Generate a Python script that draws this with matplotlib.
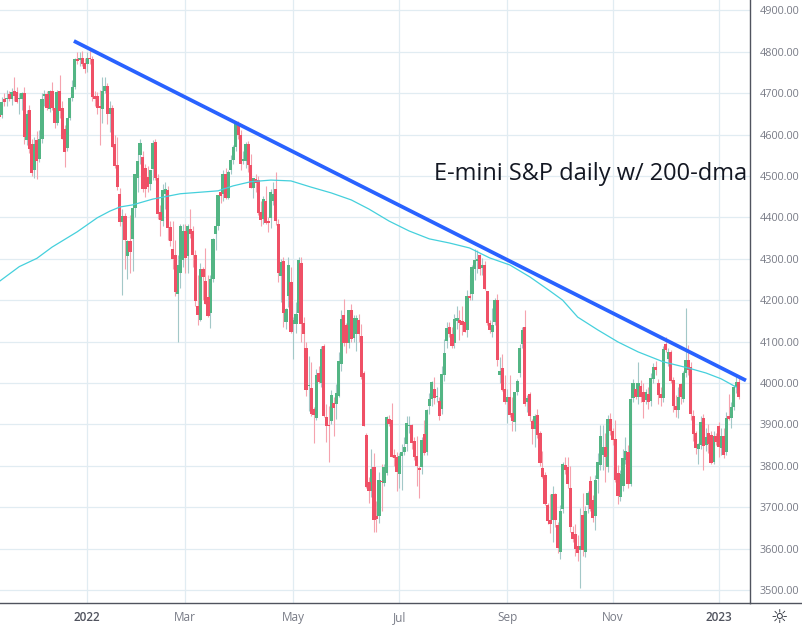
import matplotlib
matplotlib.use('Agg')
import matplotlib.pyplot as plt
from matplotlib.lines import Line2D
import numpy as np

opens = [4648,4646,4685,4685,4697,4687,4705,4703,4685,4687,
	4701,4586,4659,4577,4514,4587,4540,4590,4693,4697,
	4661,4705,4663,4628,4705,4663,4613,4568,4641,4688,
	4715,4782,4779,4784,4774,4771,4786,4783,4693,4693,
	4670,4662,4705,4718,4650,4665,4578,4526,4456,4388,
	4404,4306,4344,4347,4423,4494,4550,4546,4519,4497,
	4481,4516,4583,4495,4412,4391,4457,4465,4377,4324,
	4310,4214,4265,4298,4368,4306,4372,4366,4308,4187,
	4152,4274,4247,4207,4169,4252,4360,4380,4460,4457,
	4504,4447,4514,4538,4570,4625,4600,4535,4536,4576,
	4527,4472,4493,4490,4414,4395,4440,4391,4398,4440,
	4469,4385,4258,4294,4147,4211,4244,4143,4143,4169,
	4289,4145,4085,3992,3988,3937,3915,4024,4000,4090,
	3917,3899,3907,3951,3949,3969,4046,4163,4139,4096,
	4177,4109,4118,4151,4114,4024,3875,3760,3740,3798,
	3679,3679,3764,3758,3782,3913,3911,3827,3822,3780,
	3824,3834,3853,3895,3898,3859,3824,3795,3796,3877,
	3834,3944,3961,3986,3965,3957,3937,4019,4102,4135,
	4119,4096,4150,4151,4149,4148,4127,4211,4215,4276,
	4295,4308,4278,4286,4221,4144,4124,4147,4201,4020,
	4035,3986,3955,3967,3928,3905,3977,4024,4094,4136,
	3953,3973,3907,3888,3923,3878,3794,3778,3706,3670,
	3669,3732,3658,3592,3696,3802,3797,3746,3640,3634,
	3607,3597,3682,3591,3705,3762,3716,3678,3768,3802,
	3826,3845,3798,3912,3884,3864,3782,3724,3750,3813,
	3833,3757,3963,3986,3965,3993,3977,3958,3973,3957,
	4009,4038,3999,3973,3963,4094,4058,4075,4007,3945,
	3935,3997,3961,4025,4055,4039,3920,3878,3841,3851,
	3915,3850,3878,3875,3809,3871,3896,3843,3873,3832,
	3920,3915,3941,3990,4003]
highs = [4652,4690,4700,4707,4705,4712,4740,4715,4700,4702,
	4715,4660,4672,4590,4595,4608,4612,4700,4708,4705,
	4708,4726,4680,4708,4743,4680,4622,4640,4690,4731,
	4785,4800,4800,4802,4785,4800,4808,4790,4705,4702,
	4707,4739,4740,4725,4680,4672,4600,4595,4470,4420,
	4410,4345,4405,4425,4505,4555,4590,4560,4530,4525,
	4514,4587,4590,4505,4430,4480,4485,4475,4390,4390,
	4345,4310,4385,4385,4385,4385,4420,4380,4320,4260,
	4290,4280,4325,4260,4260,4350,4400,4455,4470,4515,
	4520,4515,4550,4575,4631,4632,4610,4560,4582,4585,
	4552,4496,4505,4500,4440,4452,4475,4400,4468,4486,
	4510,4395,4300,4304,4180,4304,4280,4160,4195,4304,
	4304,4160,4098,4064,4050,3941,4034,4042,4090,4095,
	3950,3945,3982,3965,3998,4074,4175,4202,4145,4175,
	4190,4165,4163,4166,4142,4030,3878,3772,3840,3830,
	3714,3784,3804,3804,3920,3923,3951,3840,3832,3830,
	3852,3870,3921,3921,3900,3870,3873,3800,3870,3910,
	3936,3975,4005,4015,3990,3965,4042,4105,4148,4148,
	4135,4167,4185,4175,4187,4155,4225,4260,4285,4324,
	4322,4312,4302,4295,4223,4152,4180,4205,4215,4062,
	4070,4018,3985,4018,3965,3977,4010,4095,4135,4175,
	3970,3979,3912,3925,3936,3885,3835,3785,3710,3732,
	3752,3735,3665,3705,3810,3822,3822,3800,3655,3660,
	3633,3697,3734,3702,3740,3775,3730,3778,3830,3898,
	3898,3880,3922,3927,3890,3910,3802,3790,3840,3870,
	3850,3971,4010,3999,4050,4007,3999,3985,3990,4025,
	4047,4052,4010,3990,4090,4112,4085,4080,4015,3970,
	3990,4000,4030,4180,4092,4050,3935,3885,3855,3920,
	3925,3890,3900,3885,3885,3880,3906,3890,3890,3930,
	3973,3955,3995,4022,4015]
lows = [4636,4640,4670,4668,4680,4672,4680,4675,4650,4660,
	4578,4575,4555,4500,4495,4493,4534,4580,4670,4660,
	4655,4660,4616,4622,4640,4590,4522,4560,4635,4680,
	4710,4770,4765,4765,4748,4750,4770,4680,4670,4650,
	4575,4628,4700,4625,4605,4570,4520,4465,4380,4213,
	4275,4250,4265,4270,4400,4460,4530,4460,4450,4460,
	4465,4490,4490,4395,4355,4380,4420,4345,4330,4275,
	4210,4100,4230,4280,4265,4265,4350,4280,4185,4140,
	4150,4200,4190,4160,4132,4245,4320,4370,4435,4440,
	4445,4445,4505,4530,4560,4590,4515,4530,4520,4510,
	4470,4447,4460,4405,4380,4385,4385,4365,4375,4430,
	4381,4245,4195,4136,4130,4183,4120,4058,4120,4150,
	4098,4062,3969,3933,3921,3854,3910,4000,3990,3918,
	3857,3808,3900,3871,3913,3965,4030,4090,4072,4085,
	4100,4100,4077,4098,4010,3895,3745,3709,3725,3640,
	3639,3661,3691,3750,3778,3895,3820,3800,3740,3745,
	3741,3825,3835,3880,3840,3815,3752,3723,3780,3825,
	3825,3925,3945,3950,3955,3911,3925,4005,4085,4110,
	4085,4085,4130,4103,4115,4123,4112,4200,4200,4248,
	4265,4260,4260,4225,4140,4120,4110,4140,4042,4000,
	3980,3950,3903,3918,3885,3885,3970,4015,4085,3945,
	3930,3907,3853,3846,3868,3800,3770,3705,3660,3637,
	3615,3653,3590,3575,3685,3780,3745,3640,3615,3581,
	3570,3505,3581,3580,3685,3690,3665,3645,3735,3790,
	3790,3760,3785,3875,3850,3760,3708,3715,3740,3805,
	3745,3750,3955,3960,3950,3955,3915,3950,3938,3945,
	4000,4020,3950,3945,3955,4075,4040,4000,3930,3917,
	3915,3950,3955,4015,4020,3910,3860,3829,3804,3840,
	3790,3835,3830,3805,3805,3850,3820,3825,3818,3825,
	3910,3890,3935,3975,3960]
closes = [4642,4679,4679,4688,4685,4703,4693,4679,4689,4700,
	4594,4650,4565,4507,4576,4536,4590,4685,4699,4665,
	4705,4663,4628,4703,4657,4590,4558,4641,4688,4715,
	4782,4777,4784,4770,4759,4786,4783,4691,4685,4665,
	4663,4705,4718,4650,4665,4570,4523,4473,4388,4404,
	4346,4343,4316,4423,4504,4535,4580,4468,4468,4473,
	4514,4580,4496,4409,4393,4467,4469,4375,4343,4300,
	4219,4284,4380,4368,4302,4380,4359,4308,4197,4165,
	4274,4255,4191,4161,4252,4348,4380,4453,4451,4505,
	4447,4510,4538,4570,4628,4598,4528,4540,4578,4526,
	4472,4496,4482,4410,4394,4444,4387,4387,4460,4456,
	4390,4265,4293,4169,4179,4284,4124,4151,4167,4296,
	4143,4118,3983,3996,3925,3923,4018,4002,4082,3920,
	3895,3897,3972,3939,3976,4054,4155,4096,4096,4175,
	4106,4157,4157,4118,4014,3897,3749,3738,3792,3669,
	3671,3766,3760,3798,3917,3900,3822,3819,3786,3824,
	3834,3846,3903,3899,3854,3820,3800,3790,3863,3830,
	3935,3961,4002,3964,3969,3921,4022,4073,4133,4119,
	4090,4155,4158,4145,4139,4123,4211,4206,4281,4298,
	4300,4274,4286,4227,4144,4127,4141,4201,4056,4030,
	3984,3953,3967,3922,3907,3977,4005,4085,4129,3949,
	3963,3919,3889,3919,3874,3806,3772,3708,3666,3660,
	3732,3668,3601,3691,3805,3790,3755,3653,3624,3599,
	3588,3605,3597,3691,3734,3695,3673,3766,3808,3873,
	3845,3820,3912,3883,3863,3766,3727,3780,3818,3836,
	3755,3961,3999,3966,3999,3967,3955,3977,3955,4011,
	4039,4031,3971,3963,4081,4080,4075,4005,3945,3935,
	3965,3965,4025,4055,4031,3925,3877,3842,3852,3906,
	3848,3869,3853,3806,3872,3858,3846,3872,3826,3915,
	3914,3943,3991,4003,3967]

ma_bars = [0,8,15,21,31,39,44,48,53,61,72,87,93,100,108,116,124,132,140,147,
	155,163,171,179,187,195,203,211,219,224,230,238,246,254,264,274,281,287,293]
ma_vals = [4245,4281,4301,4328,4365,4399,4415,4425,4430,4444,4457,4464,4476,4486,4490,4488,4473,4459,4442,4420,
	4391,4367,4348,4338,4326,4302,4285,4256,4222,4200,4159,4128,4099,4075,4051,4036,4024,4010,3990]

trend_bars = [29.7, 296.9]
trend_vals = [4826, 4006]

tick_bars = [35, 74, 117, 159, 202, 244, 286]
tick_labels = ['2022', 'Mar', 'May', 'Jul', 'Sep', 'Nov', '2023']
price_ticks = list(range(3500, 5000, 100))

RED = '#ef5066'
GREEN = '#53b584'
RED_W = '#f5a3ae'
GREEN_W = '#a3c8c8'
GRID = '#e1ecf2'
AXIS = '#50535e'
TXT = '#787b86'

plt.rcParams['font.family'] = ['Open Sans', 'DejaVu Sans']

fig = plt.figure(figsize=(8.03, 6.26), dpi=100)
ax = fig.add_axes([0, 23/626, 750/803, 603/626])

o = np.array(opens)
h = np.array(highs)
l = np.array(lows)
c = np.array(closes)
x = np.arange(len(o))
up = c >= o

ax.set_axisbelow(True)
ax.grid(True, color=GRID, lw=0.9)

ax.vlines(x[up], l[up], h[up], color=GREEN_W, lw=0.8, zorder=2)
ax.vlines(x[~up], l[~up], h[~up], color=RED_W, lw=0.8, zorder=2)
ax.bar(x[up], (c-o)[up], bottom=o[up], width=1.25, color=GREEN, lw=0, zorder=3)
ax.bar(x[~up], (o-c)[~up], bottom=c[~up], width=1.25, color=RED, lw=0, zorder=3)

ax.plot(ma_bars, ma_vals, color='#45d0dc', lw=0.9, zorder=4)
ax.plot(trend_bars, trend_vals, color='#2962ff', lw=2.7, zorder=5, solid_capstyle='butt')

ax.text(0.5785, 4505, 'E-mini S&P daily w/ 200-dma', transform=ax.get_yaxis_transform(),
	fontsize=17, color='#131722', va='center', ha='left', zorder=6)

ax.set_xlim(0.32, 298.5)
ax.set_ylim(3468.4, 4925)
ax.set_xticks(tick_bars)
ax.set_xticklabels(tick_labels)
ax.set_yticks(price_ticks)
ax.set_yticklabels(['%d.00' % p for p in price_ticks])
ax.yaxis.tick_right()
ax.tick_params(axis='y', length=0, pad=7, labelsize=7.8, labelcolor=TXT)
ax.tick_params(axis='x', length=0, pad=6, labelsize=8.5, labelcolor=TXT)
for t in ax.get_xticklabels():
	if t.get_text().startswith('20'):
		t.set_color('#50535e')
		t.set_fontweight('semibold')

for s in ['left', 'top']:
	ax.spines[s].set_visible(False)
ax.spines['right'].set_color(AXIS)
ax.spines['right'].set_linewidth(1.0)
ax.spines['bottom'].set_color(AXIS)
ax.spines['bottom'].set_linewidth(1.0)
fig.add_artist(Line2D([750/803, 1], [23/626, 23/626], color=AXIS, lw=1.0))

# little settings icon bottom right
fig.text(779/803, 9/626, '\u263c', family='DejaVu Sans', fontsize=14, color='#2a2e39', ha='center', va='center')

fig.savefig('out.png', dpi=100)
